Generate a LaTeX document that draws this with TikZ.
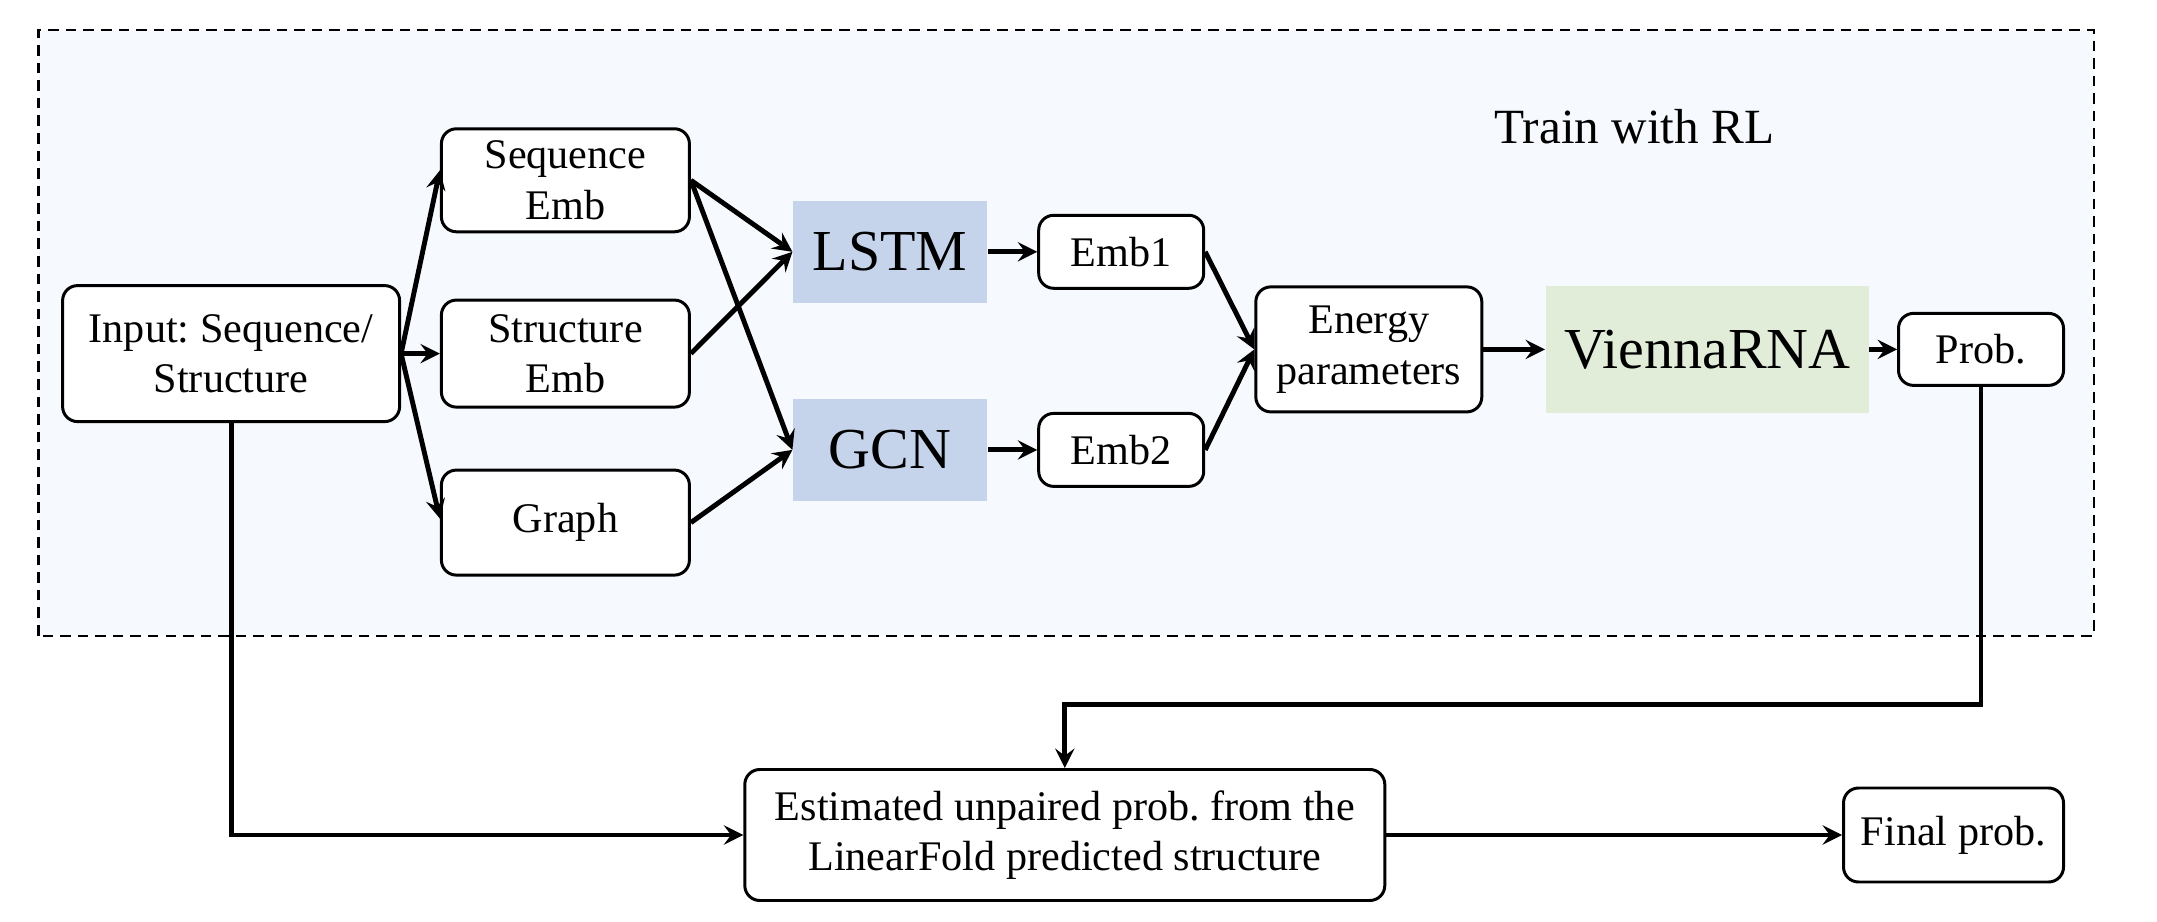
\documentclass[tikz,border=0pt]{standalone}
\usepackage{fontspec}
\setmainfont{Liberation Serif}
\usepackage{xcolor}
\usepackage{tikz}
\usetikzlibrary{arrows,positioning}
\frenchspacing
\definecolor{panelbg}{HTML}{F6F9FD}
\definecolor{netblue}{HTML}{C5D3EB}
\definecolor{foldgreen}{HTML}{E1EDD9}
\tikzstyle{block} = [rectangle, draw, line width=0.85pt, fill=white, align=center, rounded corners=0.15cm, font=\fontsize{12}{14.4}\selectfont]
\tikzstyle{model} = [rectangle, align=center, font=\fontsize{16.5}{18}\selectfont]
\tikzstyle{line} = [draw, line width=1.4pt, ->]

\begin{document}
\begin{tikzpicture}[node distance=2.5cm, auto, >=stealth]
	\useasboundingbox (0,0) rectangle (21.57,9.21);
	% training region
	\draw[fill=panelbg, line width=0.6pt, dash pattern=on 3pt off 2pt] (0.385,2.854) rectangle (20.94,8.907);
	\node[font=\fontsize{14}{16}\selectfont] (rl) at (16.343,7.944) {Train with RL};
	\node[block, minimum width=3.37cm, minimum height=1.36cm] (inp) at (2.311,5.674) {Input: Sequence/\\Structure};
	\node[block, minimum width=2.48cm, minimum height=1.07cm] (str) [right of=inp, node distance=3.343cm] {Structure\\Emb};
	\node[block, minimum width=2.48cm, minimum height=1.03cm] (seq) [above of=str, node distance=1.733cm] {Sequence\\Emb};
	\node[block, minimum width=2.48cm, minimum height=1.05cm] (gra) [below of=str, node distance=1.69cm] {Graph};
	\node[model, fill=netblue, minimum width=1.94cm, minimum height=1.02cm] (lstm) at (8.901,6.692) {LSTM};
	\node[model, fill=netblue, minimum width=1.94cm, minimum height=1.02cm] (gcn) [below of=lstm, node distance=1.981cm] {GCN};
	\node[block, minimum width=1.65cm, minimum height=0.73cm] (emba) [right of=lstm, node distance=2.311cm] {Emb1};
	\node[block, minimum width=1.65cm, minimum height=0.73cm] (embb) [right of=gcn, node distance=2.311cm] {Emb2};
	\node[block, minimum width=2.26cm, minimum height=1.25cm] (ener) at (13.688,5.716) {Energy\\parameters};
	\node[model, fill=foldgreen, minimum width=3.23cm, minimum height=1.27cm] (vrna) [right of=ener, node distance=3.384cm] {ViennaRNA};
	\node[block, minimum width=1.65cm, minimum height=0.72cm] (prob) [right of=vrna, node distance=2.738cm] {Prob.};
	% lower row
	\node[block, minimum width=6.4cm, minimum height=1.31cm] (est) at (10.648,0.86) {Estimated unpaired prob. from the\\LinearFold predicted structure};
	\node[block, minimum width=2.2cm, minimum height=0.94cm] (fin) [right of=est, node distance=8.887cm] {Final prob.};
	\coordinate (bend) at (0,2.166);
	% connectors
	\draw[line] (inp.east) -- ([yshift=0.1cm]seq.west);
	\draw[line] (inp.east) -- (str.west);
	\draw[line] (inp.east) -- ([yshift=0.04cm]gra.west);
	\draw[line] (seq.east) -- (lstm.west);
	\draw[line] (str.east) -- (lstm.west);
	\draw[line] (seq.east) -- (gcn.west);
	\draw[line] (gra.east) -- (gcn.west);
	\draw[line] (lstm) -- (emba);
	\draw[line] (gcn) -- (embb);
	\draw[line] (emba.east) -- (ener.west);
	\draw[line] (embb.east) -- (ener.west);
	\draw[line] (ener) -- (vrna);
	\draw[line] (vrna) -- (prob);
	\draw[line] (inp.south) |- (est.west);
	\draw[line] (prob.south) -- (prob.south |- bend) -| (est.north);
	\draw[line] (est) -- (fin);
\end{tikzpicture}
\end{document}
